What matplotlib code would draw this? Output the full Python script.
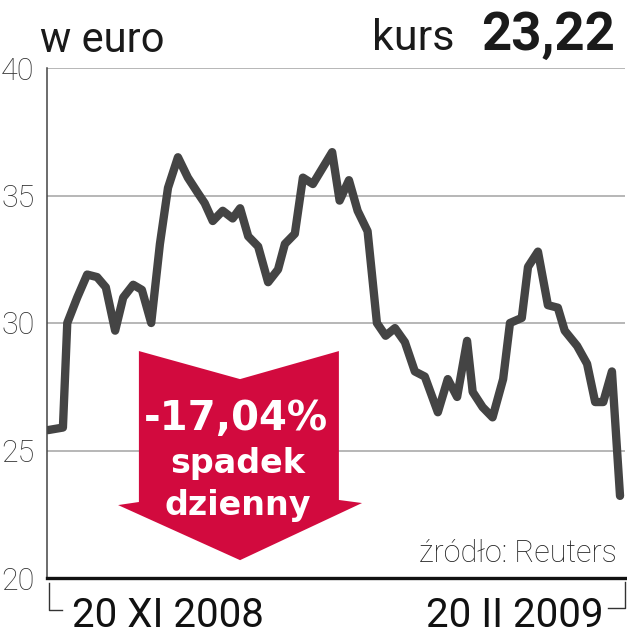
import numpy as np
import matplotlib.pyplot as plt
from matplotlib.patches import Polygon
from matplotlib.lines import Line2D

# dni od 20 XI 2008 i kurs w euro
days = [0, 2.4, 3.1, 4.7, 6.3, 7.9, 9.3, 10.8, 12.1, 13.7, 15.1, 16.6, 18.0, 19.3,
        20.9, 22.5, 24.1, 25.2, 26.5, 28.1, 29.7, 30.9, 32.2, 33.8, 35.4, 37.0,
        38.1, 39.7, 41.0, 42.6, 45.7, 46.9, 48.4, 49.8, 51.4, 52.9, 54.3, 55.8,
        57.4, 59.0, 60.6, 62.7, 64.3, 65.8, 67.4, 68.3, 69.9, 71.5, 73.2, 74.3,
        76.2, 77.2, 78.8, 80.4, 82.0, 83.1, 85.1, 86.7, 88.0, 89.3, 90.7, 92.0]
price = [25.8, 25.9, 30.0, 31.0, 31.9, 31.8, 31.4, 29.7, 31.0, 31.5, 31.3, 30.0, 33.1, 35.3,
         36.5, 35.7, 35.1, 34.7, 34.0, 34.4, 34.1, 34.5, 33.4, 33.0, 31.6, 32.1,
         33.1, 33.5, 35.7, 35.45, 36.7, 34.8, 35.6, 34.4, 33.6, 30.0, 29.5, 29.8,
         29.25, 28.1, 27.9, 26.5, 27.8, 27.1, 29.3, 27.3, 26.7, 26.3, 27.8, 30.0,
         30.2, 32.2, 32.8, 30.7, 30.6, 29.7, 29.1, 28.4, 26.9, 26.9, 28.1, 23.22]
yticks = [20, 25, 30, 35, 40]

W, H = 627, 640
fig = plt.figure(figsize=(W / 100, H / 100), dpi=100)
ax = fig.add_axes([47 / W, 62 / H, 578 / W, 510 / H])

ax.set_xlim(-0.16, 92.8)
ax.set_ylim(20, 40)
for v in yticks[1:]:
    ax.axhline(v, color='#aaaaaa', lw=1.2, zorder=1)

# strzałka spadku
arrow = [(.159, .445), (.334, .390), (.505, .445), (.505, .153), (.545, .147),
         (.334, .035), (.123, .143), (.159, .149)]
ax.add_patch(Polygon(arrow, closed=True, transform=ax.transAxes,
                     facecolor='#d20a3e', edgecolor='none', zorder=2))

ax.plot(days, price, color='#444444', lw=6, solid_joinstyle='round',
        solid_capstyle='round', zorder=3)

for s in ['top', 'right']:
    ax.spines[s].set_visible(False)
ax.spines['left'].set_color('#444444')
ax.spines['left'].set_linewidth(1.1)
ax.spines['bottom'].set_color('#111111')
ax.spines['bottom'].set_linewidth(2.4)
ax.set_xticks([])
ax.set_yticks(yticks)
ax.tick_params(axis='y', length=0, pad=9)
for lab in ax.get_yticklabels():
    lab.set_family('Roboto')
    lab.set_fontweight('light')
    lab.set_fontsize(22)
    lab.set_color('#333333')

def fx(px):
    return px / W

def fy(py):
    return 1 - py / H

fig.text(fx(40), fy(52), 'w euro', family='Roboto', fontsize=30, color='#1a1a1a', va='baseline')
fig.text(fx(372), fy(50), 'kurs', family='Roboto', fontsize=31, color='#1a1a1a', va='baseline')
fig.text(fx(615), fy(50), '23,22', family='Roboto', fontweight='bold', fontsize=38,
         color='#1a1a1a', va='baseline', ha='right')
fig.text(fx(617), fy(562), 'źródło: Reuters', family='Roboto', fontweight='light', fontsize=22,
         color='#222222', va='baseline', ha='right')
fig.text(fx(72), fy(627), '20 XI 2008', family='Roboto', fontsize=29, color='#111111', va='baseline')
fig.text(fx(603), fy(627), '20 II 2009', family='Roboto', fontsize=29, color='#111111',
         va='baseline', ha='right')

fig.text(fx(236), fy(430), '-17,04%', family='DejaVu Sans', fontweight='bold', fontsize=29,
         color='white', va='baseline', ha='center')
fig.text(fx(238), fy(473), 'spadek', family='DejaVu Sans', fontweight='bold', fontsize=24,
         color='white', va='baseline', ha='center')
fig.text(fx(238), fy(515), 'dzienny', family='DejaVu Sans', fontweight='bold', fontsize=24,
         color='white', va='baseline', ha='center')

# narożniki przy datach
fig.add_artist(Line2D([fx(49), fx(49), fx(62)], [fy(583), fy(610), fy(610)], color='#333333', lw=1))
fig.add_artist(Line2D([fx(625), fx(625), fx(608)], [fy(582), fy(608), fy(608)], color='#333333', lw=1))

fig.savefig('out.png', dpi=100)
